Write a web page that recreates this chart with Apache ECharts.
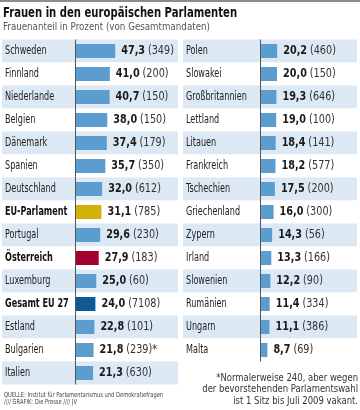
<!DOCTYPE html>
<html><head><meta charset="utf-8">
<script src="https://cdn.jsdelivr.net/npm/echarts@6/dist/echarts.min.js"></script>
<style>html,body{margin:0;padding:0;background:#fff}#c{width:360px;height:410px}</style>
</head><body><div id="c"></div>
<script>
const leftNames = ['Schweden','Finnland','Niederlande','Belgien','Dänemark','Spanien','Deutschland','EU-Parlament','Portugal','Österreich','Luxemburg','Gesamt EU 27','Estland','Bulgarien','Italien'];
const leftValues = [47.3,41.0,40.7,38.0,37.4,35.7,32.0,31.1,29.6,27.9,25.0,24.0,22.8,21.8,21.3];
const leftSeats = ['349','200','150','150','179','350','612','785','230','183','60','7108','101','239','630'];
const leftMarks = ['','','','','','','','','','','','','','*',''];
const rightNames = ['Polen','Slowakei','Großbritannien','Lettland','Litauen','Frankreich','Tschechien','Griechenland','Zypern','Irland','Slowenien','Rumänien','Ungarn','Malta'];
const rightValues = [20.2,20.0,19.3,19.0,18.4,18.2,17.5,16.0,14.3,13.3,12.2,11.4,11.1,8.7];
const rightSeats = ['460','150','646','100','141','577','200','300','56','166','90','334','386','69'];
const rightMarks = ['','','','','','','','','','','','','',''];
const specialColors = {'EU-Parlament':'#d4b106','Österreich':'#a3002f','Gesamt EU 27':'#0d5a94'};
const boldNames = ['EU-Parlament','Österreich','Gesamt EU 27'];

const FONT = "'DejaVu Sans Condensed','DejaVu Sans',sans-serif";
const BLUE = '#5b9dcf';
const ROWBG = '#dce8f4';
const SCALE = 0.85; // px per percent
const ROW = 23;
const TOP = 39.5;

function fmt(v){ return v.toFixed(1).replace('.', ','); }

function column(idx, names, values, seats, marks, left, width, zeroOff){
  const min = -zeroOff / SCALE;
  const max = (width - zeroOff) / SCALE;
  const grid = {left: left, top: TOP, width: width, height: names.length * ROW};
  const xAxis = {gridIndex: idx, type: 'value', min: min, max: max, show: false};
  const yAxis = {
    gridIndex: idx, type: 'category', data: names, inverse: true,
    axisLine: {show: false}, axisTick: {show: false}, splitLine: {show: false},
    splitArea: {show: true, interval: 0, areaStyle: {color: [ROWBG, '#ffffff']}},
    axisLabel: {show: false, interval: 0}
  };
  const bars = {
    type: 'bar', xAxisIndex: idx, yAxisIndex: idx, barWidth: 14,
    data: values.map((v, i) => ({value: v, itemStyle: {color: specialColors[names[i]] || BLUE}})),
    markLine: {
      silent: true, symbol: 'none', label: {show: false},
      lineStyle: {color: '#555', width: 1, type: 'solid'},
      data: [{xAxis: 0}]
    },
    z: 2
  };
  const texts = {
    type: 'custom', xAxisIndex: idx, yAxisIndex: idx, clip: false, z: 3,
    data: values.map((v, i) => [v, i]),
    encode: {x: 0, y: 1},
    renderItem: function(params, api){
      const i = api.value(1);
      const v = api.value(0);
      const base = api.coord([min, i]);
      const end = api.coord([v, i]);
      const nm = names[i];
      const isBold = boldNames.indexOf(nm) >= 0;
      return {
        type: 'group',
        children: [
          {type: 'text', x: base[0] + 3, y: base[1], scaleX: 0.75,
           style: {text: nm, fontFamily: FONT, fontSize: 12, fontWeight: isBold ? 'bold' : 'normal',
                   fill: isBold ? '#111' : '#222', verticalAlign: 'middle', align: 'left'}},
          {type: 'text', x: end[0] + 6, y: end[1], scaleX: 0.86,
           style: {text: '{v|' + fmt(v) + '} {s|(' + seats[i] + ')' + marks[i] + '}',
                   verticalAlign: 'middle', align: 'left',
                   rich: {v: {fontFamily: FONT, fontSize: 12.5, fontWeight: 'bold', fill: '#1a1a1a', color: '#1a1a1a'},
                          s: {fontFamily: FONT, fontSize: 12.5, fill: '#333', color: '#333'}}}}
        ]
      };
    }
  };
  return {grid, xAxis, yAxis, series: [bars, texts]};
}

const L = column(0, leftNames, leftValues, leftSeats, leftMarks, 2, 176, 73);
const R = column(1, rightNames, rightValues, rightSeats, rightMarks, 183, 174, 77);

const chart = echarts.init(document.getElementById('c'), null, {renderer: 'canvas'});
chart.setOption({
  animation: false,
  backgroundColor: '#fff',
  grid: [L.grid, R.grid],
  xAxis: [L.xAxis, R.xAxis],
  yAxis: [L.yAxis, R.yAxis],
  series: L.series.concat(R.series),
  graphic: [
    {type: 'rect', x: 0, y: 0, shape: {width: 360, height: 2}, style: {fill: '#8c8c8c'}},
    {type: 'text', x: 3, y: 13, scaleX: 0.83, style: {text: 'Frauen in den europäischen Parlamenten', font: 'bold 13.5px ' + FONT, fill: '#111', verticalAlign: 'middle'}},
    {type: 'text', x: 3, y: 27, scaleX: 0.88, style: {text: 'Frauenanteil in Prozent (von Gesamtmandaten)', font: '11px ' + FONT, fill: '#555', verticalAlign: 'middle'}},
    {type: 'text', x: 4, y: 395, scaleX: 0.82, style: {text: 'QUELLE: Institut für Parlamentarismus und Demokratiefragen', font: '7px ' + FONT, fill: '#444', verticalAlign: 'middle'}},
    {type: 'text', x: 4, y: 402.5, scaleX: 0.82, style: {text: '//// GRAFIK: Die Presse //// JV', font: '7px ' + FONT, fill: '#444', verticalAlign: 'middle'}},
    {type: 'text', x: 358, y: 377.7, scaleX: 0.855, style: {text: '*Normalerweise 240, aber wegen', font: '11px ' + FONT, fill: '#333', align: 'right', verticalAlign: 'middle'}},
    {type: 'text', x: 358, y: 389.3, scaleX: 0.855, style: {text: 'der bevorstehenden Parlamentswahl', font: '11px ' + FONT, fill: '#333', align: 'right', verticalAlign: 'middle'}},
    {type: 'text', x: 358, y: 400.8, scaleX: 0.855, style: {text: 'ist 1 Sitz bis Juli 2009 vakant.', font: '11px ' + FONT, fill: '#333', align: 'right', verticalAlign: 'middle'}}
  ]
});
</script></body></html>
